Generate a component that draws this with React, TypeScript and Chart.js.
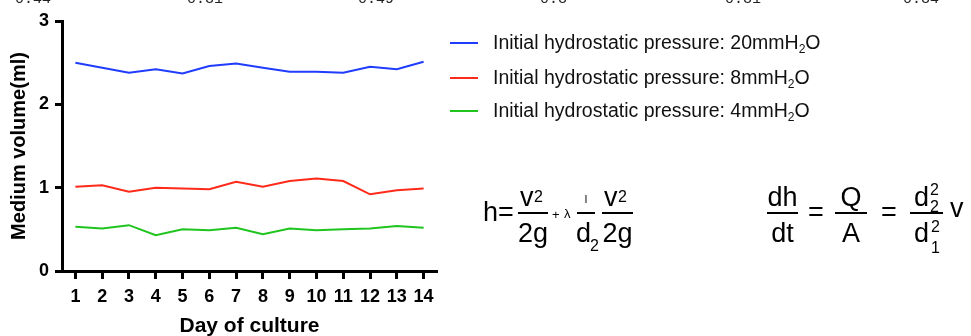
import React, { useEffect, useRef } from "react";
import { Chart, registerables } from "chart.js";

Chart.register(...registerables);

// ---- data ----
const days = [1, 2, 3, 4, 5, 6, 7, 8, 9, 10, 11, 12, 13, 14];
const pressure20 = [2.5, 2.44, 2.38, 2.42, 2.37, 2.46, 2.49, 2.44, 2.39, 2.39, 2.38, 2.45, 2.42, 2.51];
const pressure8 = [1.01, 1.03, 0.95, 1.0, 0.99, 0.98, 1.07, 1.01, 1.08, 1.11, 1.08, 0.92, 0.97, 0.99];
const pressure4 = [0.53, 0.51, 0.55, 0.43, 0.5, 0.49, 0.52, 0.44, 0.51, 0.49, 0.5, 0.51, 0.54, 0.52];
const pressureLevels = ["20", "8", "4"];
const seriesColors = ["#1f3cff", "#ff2a1a", "#1fc41f"];
const yTicks = [0, 1, 2, 3];
const topCutLabels = ["0.44", "0.31", "0.49", "0.3", "0.31", "0.34"];

const FONT = '"Liberation Sans", Arial, Helvetica, sans-serif';

function Txt(props: any) {
  const { x, base, size, w, align, children } = props;
  return (
    <div
      style={{
        position: "absolute",
        left: x,
        top: base - 0.8465 * size,
        fontSize: size,
        lineHeight: 1,
        fontFamily: FONT,
        whiteSpace: "nowrap",
        width: w,
        textAlign: align || "left",
        color: "#000",
      }}
    >
      {children}
    </div>
  );
}

function Bar(props: any) {
  const { x, y, w } = props;
  return (
    <div
      style={{ position: "absolute", left: x, top: y - 0.75, width: w, height: 1.5, background: "#000" }}
    />
  );
}

export default function App() {
  const canvasRef = useRef<HTMLCanvasElement | null>(null);

  useEffect(() => {
    document.body.style.margin = "0";
    const series = [pressure20, pressure8, pressure4];
    const chart = new Chart(canvasRef.current as HTMLCanvasElement, {
      type: "line",
      data: {
        datasets: series.map((vals, k) => ({
          label: `Initial hydrostatic pressure: ${pressureLevels[k]}mmH₂O`,
          data: days.map((d, i) => ({ x: d, y: vals[i] })),
          borderColor: seriesColors[k],
          backgroundColor: seriesColors[k],
          borderWidth: 2,
          pointRadius: 0,
          tension: 0,
          fill: false,
        })),
      },
      options: {
        responsive: false,
        animation: false,
        layout: { padding: { top: 21, right: 971 - 437, left: 0, bottom: 0 } },
        plugins: { legend: { display: false }, tooltip: { enabled: false } },
        scales: {
          x: {
            type: "linear",
            min: 0.5,
            max: 14.5,
            afterBuildTicks: (s: any) => {
              s.ticks = days.map((v) => ({ value: v }));
            },
            afterFit: (s: any) => {
              s.height = 65;
            },
            grid: { drawOnChartArea: false, drawTicks: true, tickLength: 8, tickWidth: 3, tickColor: "#000" },
            border: { display: true, width: 3, color: "#000" },
            ticks: {
              color: "#000",
              font: { family: FONT, weight: "bold", size: 18 },
              padding: 7,
              maxRotation: 0,
              autoSkip: false,
              callback: (v: any) => String(v),
            },
            title: {
              display: true,
              text: "Day of culture",
              color: "#000",
              font: { family: FONT, weight: "bold", size: 21 },
              padding: { top: 0, bottom: -3 },
            },
          },
          y: {
            min: 0,
            max: 3,
            afterBuildTicks: (s: any) => {
              s.ticks = yTicks.map((v) => ({ value: v }));
            },
            afterFit: (s: any) => {
              s.width = 62;
            },
            grid: { drawOnChartArea: false, drawTicks: true, tickLength: 7, tickWidth: 3, tickColor: "#000" },
            border: { display: true, width: 3, color: "#000" },
            ticks: {
              color: "#000",
              font: { family: FONT, weight: "bold", size: 18 },
              padding: 6,
              callback: (v: any) => String(v),
            },
            title: {
              display: true,
              text: "Medium volume(ml)",
              color: "#000",
              font: { family: FONT, weight: "bold", size: 20 },
              padding: { top: 7, bottom: 0 },
            },
          },
        },
      },
    });
    return () => chart.destroy();
  }, []);

  const legendRows = [43, 77.5, 111];
  const cutX = [15, 187, 358, 540, 725, 903];

  return (
    <div style={{ position: "relative", width: 971, height: 336, overflow: "hidden", background: "#fff" }}>
      <canvas ref={canvasRef} width={971} height={336} style={{ display: "block" }} />

      {topCutLabels.map((t, i) => (
        <div
          key={"c" + i}
          style={{
            position: "absolute",
            left: cutX[i],
            top: -8.5,
            fontFamily: '"Liberation Mono", "DejaVu Sans Mono", monospace',
            fontSize: 15,
            lineHeight: 1,
            color: "#222",
          }}
        >
          {t}
        </div>
      ))}

      {pressureLevels.map((p, i) => (
        <div
          key={"l" + i}
          style={{
            position: "absolute",
            left: 450,
            top: legendRows[i] - 10,
            height: 20,
            display: "flex",
            alignItems: "center",
            fontFamily: FONT,
            fontSize: 19.5,
            lineHeight: 1,
            color: "#111",
            whiteSpace: "nowrap",
          }}
        >
          <span style={{ display: "inline-block", width: 28, height: 2, background: seriesColors[i], marginRight: 15 }} />
          <span>
            Initial hydrostatic pressure: {p}mmH
            <span style={{ fontSize: "0.62em", position: "relative", top: "0.35em" }}>2</span>O
          </span>
        </div>
      ))}

      {/* formula 1: h = v^2/2g + λ (l/d2) (v^2/2g) */}
      <Txt x={483} base={222} size={27}>h=</Txt>
      <Bar x={518} y={213} w={30} />
      <Txt x={520} base={207} size={27}>v</Txt>
      <Txt x={534} base={203} size={16}>2</Txt>
      <Txt x={518} base={243} size={27} w={30} align="center">2g</Txt>
      <Txt x={552} base={219} size={13}>+</Txt>
      <Txt x={564} base={218} size={13}>λ</Txt>
      <Bar x={577} y={213} w={18} />
      <Txt x={577} base={203} size={11} w={18} align="center">l</Txt>
      <Txt x={576} base={243} size={27}>d</Txt>
      <Txt x={590} base={252} size={16}>2</Txt>
      <Bar x={602} y={213} w={31} />
      <Txt x={604} base={207} size={27}>v</Txt>
      <Txt x={618} base={203} size={16}>2</Txt>
      <Txt x={602} base={243} size={27} w={31} align="center">2g</Txt>

      {/* formula 2: dh/dt = Q/A = (d2^2/d1^2) v */}
      <Bar x={767} y={213} w={31} />
      <Txt x={767} base={207} size={27} w={31} align="center">dh</Txt>
      <Txt x={767} base={243} size={27} w={31} align="center">dt</Txt>
      <Txt x={808} base={222} size={27}>=</Txt>
      <Bar x={835} y={213} w={32} />
      <Txt x={835} base={207} size={27} w={32} align="center">Q</Txt>
      <Txt x={835} base={243} size={27} w={32} align="center">A</Txt>
      <Txt x={881} base={222} size={27}>=</Txt>
      <Bar x={910} y={213} w={33} />
      <Txt x={914} base={207} size={27}>d</Txt>
      <Txt x={930} base={196} size={16}>2</Txt>
      <Txt x={930} base={213} size={16}>2</Txt>
      <Txt x={914} base={243} size={27}>d</Txt>
      <Txt x={931} base={233} size={16}>2</Txt>
      <Txt x={931} base={254} size={16}>1</Txt>
      <Txt x={950} base={218} size={27}>v</Txt>
    </div>
  );
}
